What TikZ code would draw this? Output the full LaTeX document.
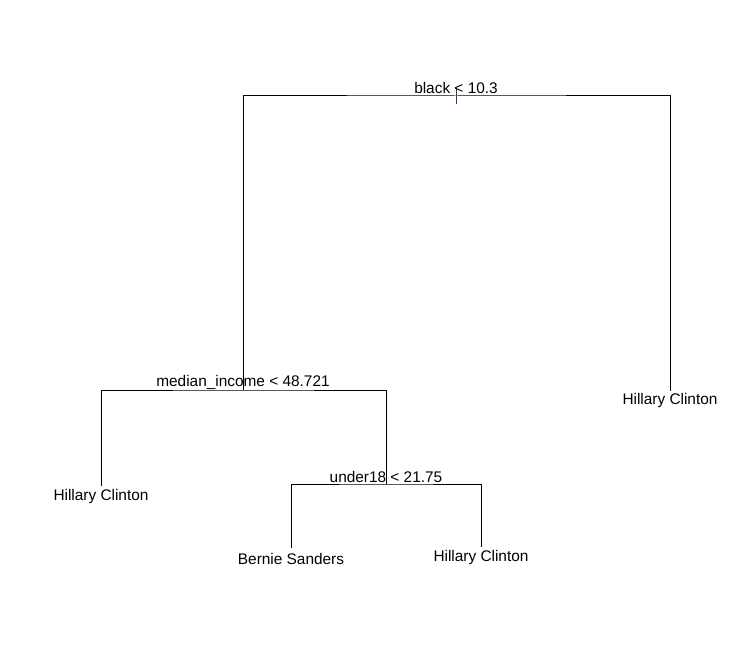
\documentclass[tikz,border=0pt]{standalone}
\usepackage{fontspec}
\setmainfont{Liberation Sans}
\usetikzlibrary{positioning,calc}
\definecolor{stempurple}{RGB}{90,30,130}
\tikzset{
  treeline/.style={draw=black,line width=1pt},
  stemline/.style={draw=stempurple,line width=1pt},
  splitlabel/.style={font=\fontsize{15.4}{18}\selectfont,anchor=base,inner sep=0pt},
  leaflabel/.style={font=\fontsize{15.4}{18}\selectfont,anchor=base,inner sep=0pt}
}
\begin{document}
\begin{tikzpicture}[x=1pt,y=-1pt]
  \useasboundingbox[fill=white] (0,0) rectangle (734,663);
  % split points and leaves
  \coordinate (root) at (456,96);
  \coordinate (income) at (243,390);
  \coordinate (hcright) at (670,391);
  \coordinate (hcleft) at (101,486);
  \coordinate (young) at (386,484);
  \coordinate (bernie) at (291,548);
  \coordinate (hcmid) at (481,547);
  \draw[treeline] (income) |- (root) -| (hcright);
  \draw[treeline] (hcleft) |- (income) -| (young);
  \draw[treeline] (bernie) |- (young) -| (hcmid);
  \draw[stemline] ($(root)+(0,-8)$) -- ($(root)+(0,8)$);
  \node[splitlabel] (rootlbl) at ([yshift=2pt]root) {black < 10.3};
  \node[splitlabel] (incomelbl) at ([yshift=3.5pt]income) {median\_income < 48.721};
  \node[splitlabel] (younglbl) at ([yshift=1.5pt]young) {under18 < 21.75};
  \node[leaflabel] (hcleftlbl) at ([yshift=-14pt]hcleft) {Hillary Clinton};
  \node[leaflabel] (hcrightlbl) at ([yshift=-13pt]hcright) {Hillary Clinton};
  \node[leaflabel] (bernielbl) at ([yshift=-16pt]bernie) {Bernie Sanders};
  \node[leaflabel] (hcmidlbl) at ([yshift=-14.5pt]hcmid) {Hillary Clinton};
\end{tikzpicture}
\end{document}
